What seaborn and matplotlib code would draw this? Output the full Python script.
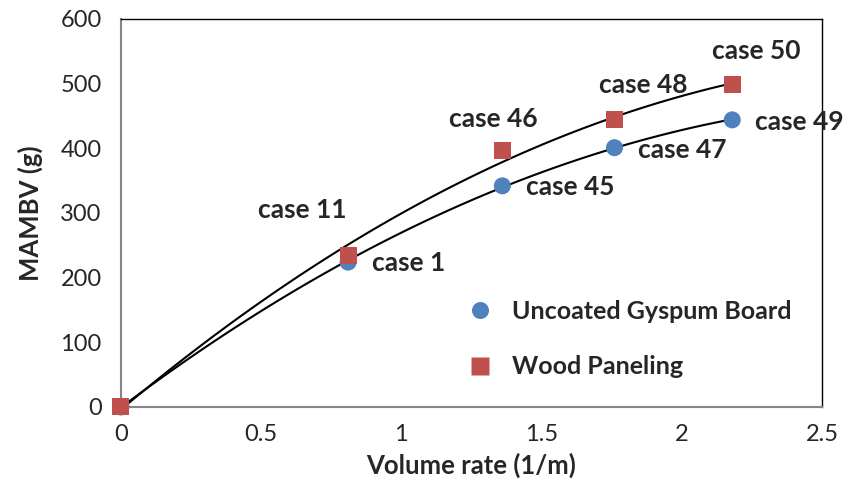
import numpy as np
import pandas as pd
import matplotlib
matplotlib.use("Agg")
import matplotlib.pyplot as plt
import seaborn as sns

# data
volume_rate = [0.0, 0.81, 1.36, 1.76, 2.18]
gypsum = [0, 224, 342, 401, 444]
wood = [0, 235, 397, 445, 498]
gypsum_cases = [None, "case 1", "case 45", "case 47", "case 49"]
wood_cases = [None, "case 11", "case 46", "case 48", "case 50"]

df = pd.concat([
    pd.DataFrame({"x": volume_rate, "y": gypsum, "material": "Uncoated Gyspum Board"}),
    pd.DataFrame({"x": volume_rate, "y": wood, "material": "Wood Paneling"}),
])

sns.set_style("white")
plt.rcParams["font.family"] = ["Lato", "DejaVu Sans"]

fig = plt.figure(figsize=(8.46, 4.87), dpi=100)
ax = fig.add_axes([0.143, 0.1643, 0.8286, 0.7967])

blue = "#4F81BD"
red = "#C0504D"

# polynomial trend lines (order 2), like the Excel trendline
sns.regplot(data=df[df.material == "Uncoated Gyspum Board"], x="x", y="y", order=2,
            ci=None, scatter=False, color="black", line_kws={"lw": 1.5}, ax=ax)
sns.regplot(data=df[df.material == "Wood Paneling"], x="x", y="y", order=2,
            ci=None, scatter=False, color="black", line_kws={"lw": 1.5}, ax=ax)

sns.scatterplot(data=df, x="x", y="y", hue="material", style="material",
                palette=[blue, red], markers=["o", "s"], s=150, edgecolor="none",
                ax=ax, zorder=3, clip_on=False)

# case labels
gyp_off = [None, (24, -1), (24, -1), (24, -2), (23, -2)]
wood_off = [None, (-90, 45), (-53, 31), (-15, 34), (-20, 34)]
for xs, ys, labels, offs in [(volume_rate, gypsum, gypsum_cases, gyp_off),
                             (volume_rate, wood, wood_cases, wood_off)]:
    for xv, yv, lab, off in zip(xs, ys, labels, offs):
        if lab is None:
            continue
        ax.annotate(lab, (xv, yv), xytext=off, textcoords="offset pixels",
                    fontsize=19, fontweight="bold", ha="left", va="center")

ax.set_xlim(0, 2.5)
ax.set_ylim(0, 600)
ax.set_xticks([0, 0.5, 1, 1.5, 2, 2.5])
ax.set_xticklabels(["0", "0.5", "1", "1.5", "2", "2.5"])
ax.set_yticks(range(0, 601, 100))
ax.tick_params(labelsize=17, length=0)
ax.tick_params(axis="x", pad=12)
ax.tick_params(axis="y", pad=14)
ax.set_xlabel("Volume rate (1/m)", fontsize=18.5, fontweight="bold", labelpad=6)
ax.set_ylabel("MAMBV (g)", fontsize=18.5, fontweight="bold", labelpad=12)

for side in ["left", "bottom"]:
    ax.spines[side].set_color("#868686")
    ax.spines[side].set_linewidth(1.5)
for side in ["top", "right"]:
    ax.spines[side].set_color("black")
    ax.spines[side].set_linewidth(1)

leg = ax.legend(loc="center left", bbox_to_anchor=(0.444, 0.175), frameon=False,
                fontsize=18, handletextpad=0.3, labelspacing=1.3, markerscale=1.0)
for t in leg.get_texts():
    t.set_fontweight("bold")

fig.savefig("out.png", dpi=100)
